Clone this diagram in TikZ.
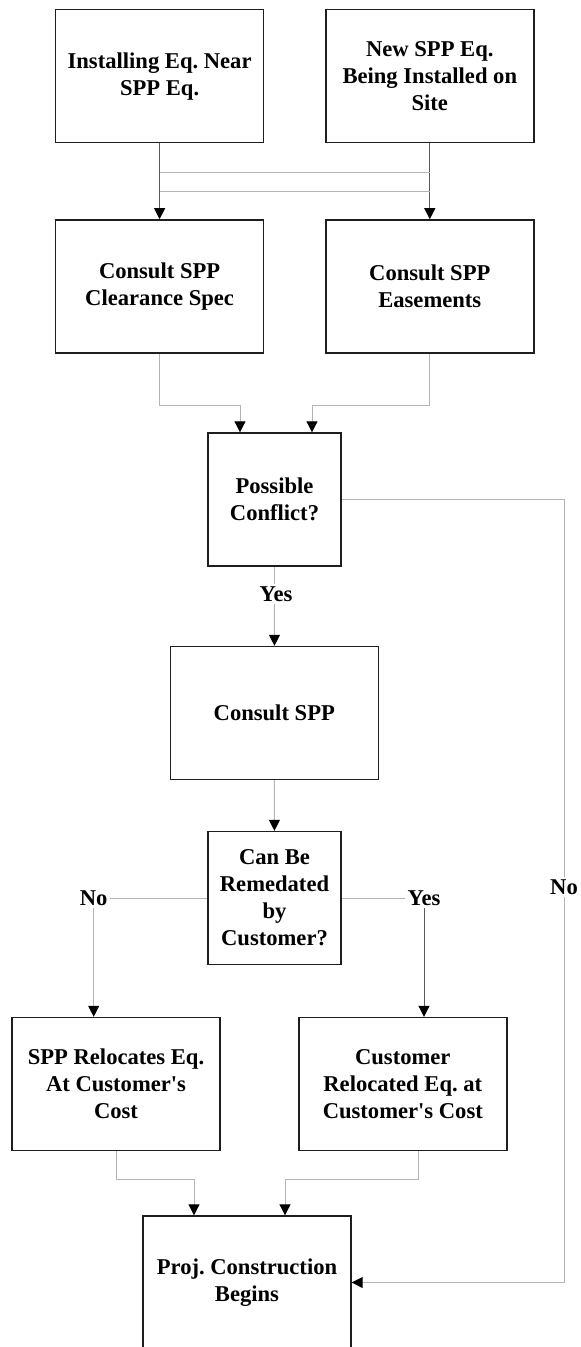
\documentclass[tikz,border=0pt]{standalone}
\usepackage{fontspec}
\setmainfont{Liberation Serif}
\usetikzlibrary{arrows.meta,positioning,calc}
\definecolor{lnk}{HTML}{B4B4B4}
\definecolor{lnkdk}{HTML}{5A5A5A}
\definecolor{bx}{HTML}{1E1E1E}
\frenchspacing

\begin{document}
\begin{tikzpicture}[x=0.5pt,y=-0.5pt,
  every node/.style={font=\bfseries\fontsize{11.3}{13.5}\selectfont},
  sh/.style={draw=bx,line width=0.7pt,minimum width=104pt,
    minimum height=66.5pt,inner sep=2pt,align=center},
  sq/.style={sh,minimum width=66.5pt},
  ed/.style={lnk,line width=0.5pt},
  edk/.style={lnkdk,line width=0.5pt},
  ar/.style={-{Triangle[width=5.5pt,length=5.5pt,color=black]}},
  lb/.style={inner sep=1pt}]
\useasboundingbox (0,0) rectangle (580,1347);
\node[sh] (A) at (159.6,76.3) {Installing Eq. Near\\ SPP Eq.};
\node[sh] (B) at (429.8,76.3) {New SPP Eq.\\ Being Installed on\\ Site};
\node[sh] (C) at (159.6,286.4) {Consult SPP\\ Clearance Spec};
\node[sh] (D) at (429.8,286.4) {Consult SPP\\ Easements};
\node[sq] (E) at (274.5,499.5) {Possible\\ Conflict?};
\node[sh] (F) at (274.3,713) {Consult SPP};
\node[sq] (K) at (274.5,898) {Can Be\\ Remedated\\ by\\ Customer?};
\node[sh] (G) at (116,1084)
  {SPP Relocates Eq.\\ At Customer\textquotesingle s\\ Cost};
\node[sh] (H) at (402.8,1084)
  {Customer\\ Relocated Eq. at\\ Customer\textquotesingle s Cost};
\node[sh] (P) at (247,1282.5) {Proj. Construction\\ Begins};
\node[lb] (yes1) at (276,594) {Yes};
\node[lb] (no1) at (93.7,898) {No};
\node[lb] (yes2) at (424,898) {Yes};
\node[lb] (no2) at (564,887) {No};
\coordinate (t1) at (0,173); \coordinate (t2) at (0,192);
\draw[edk,ar] (A) -- (C); \draw[edk,ar] (B) -- (D);
\draw[ed] (A |- t1) -- (B |- t1); \draw[ed] (A |- t2) -- (B |- t2);
\draw[ed,ar] (C.south) -- ++(0,52.3) -| ([xshift=-17.25pt]E.north);
\draw[ed,ar] (D.south) -- ++(0,52.3) -| ([xshift=18.75pt]E.north);
\draw[ed] (E) -- (E |- yes1.north); \draw[ed,ar] (E |- yes1.south) -- (F);
\draw[ed,ar] (F) -- (K);
\draw[ed] (K) -- (no1); \draw[ed,ar] (no1) -- (no1 |- G.north);
\draw[ed] (K) -- (yes2); \draw[edk,ar] (yes2) -- (yes2 |- H.north);
\draw[ed] (E.east) -| (no2); \draw[ed,ar] (no2) |- (P.east);
\draw[ed,ar] (G.south) -- ++(0,28) -| ([xshift=-26.5pt]P.north);
\draw[ed,ar] ([xshift=7.85pt]H.south) -- ++(0,28) -| ([xshift=19pt]P.north);
\end{tikzpicture}
\end{document}
